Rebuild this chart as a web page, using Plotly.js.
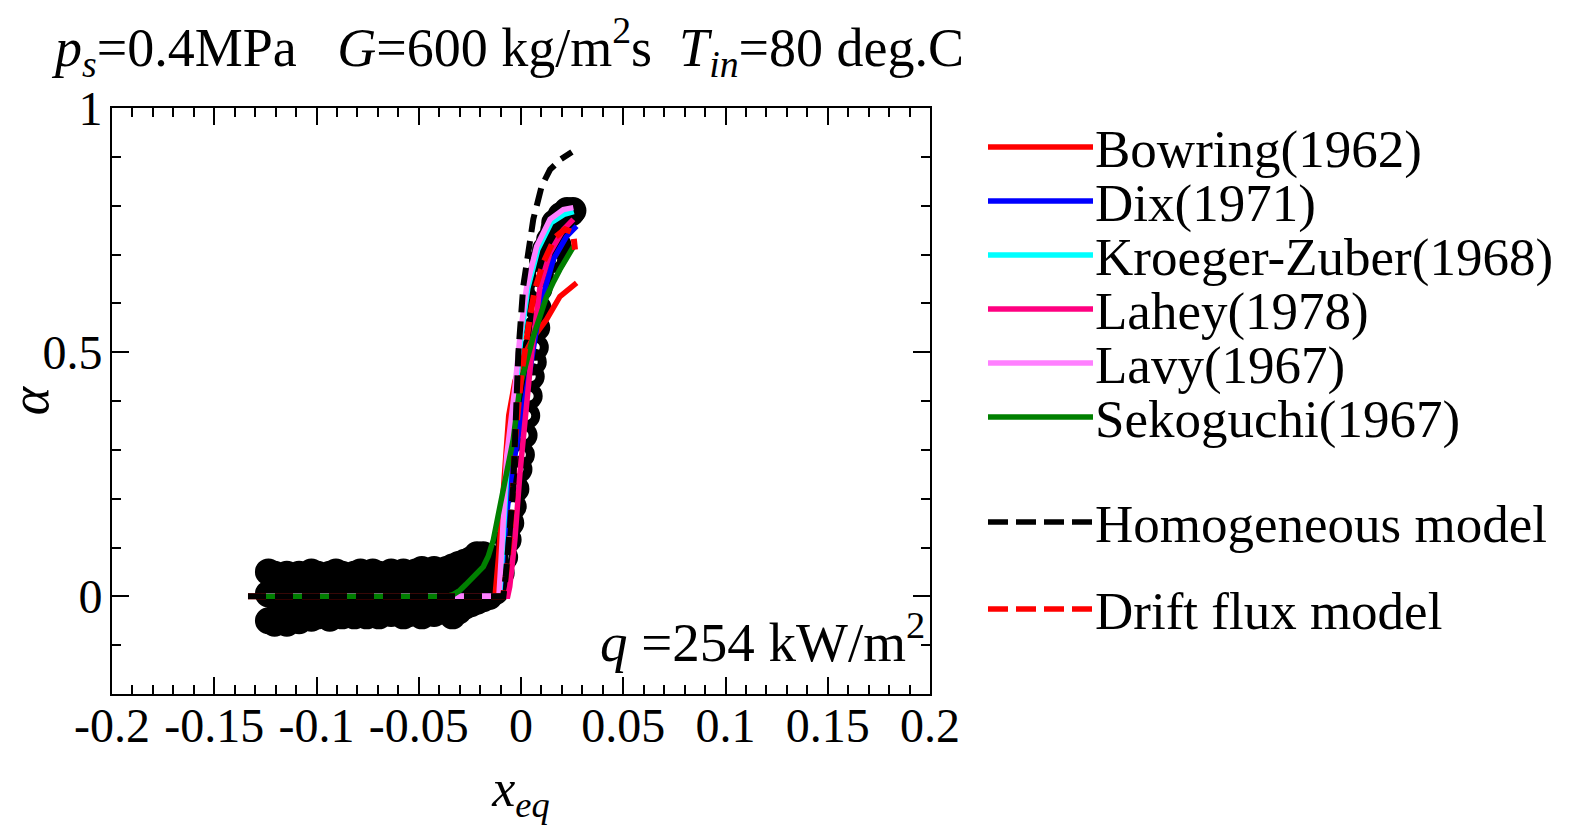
<!DOCTYPE html>
<html><head><meta charset="utf-8">
<script src="https://cdn.plot.ly/plotly-3.0.1.min.js"></script>
<style>html,body{margin:0;padding:0;background:#fff}</style>
</head><body><div id="chart" style="width:1573px;height:825px"></div>
<script>
// ---- Measured data (x_eq, alpha) ----
const flatX = [-0.1235,-0.1205,-0.1175,-0.1145,-0.1115,-0.1085,-0.1055,-0.1025,-0.0995,-0.0965,-0.0935,-0.0905,-0.0875,-0.0845,-0.0815,-0.0785,-0.0755,-0.0725,-0.0695,-0.0665,-0.0635,-0.0605,-0.0575,-0.0545,-0.0515,-0.0485,-0.0455,-0.0425,-0.0395,-0.0365,-0.0335,-0.0305,-0.0275,-0.0245,-0.0215,-0.0185,-0.0155,-0.0125];
const flatUpper = [0.05,0.045,0.04,0.045,0.04,0.045,0.04,0.05,0.045,0.04,0.045,0.05,0.045,0.04,0.045,0.05,0.045,0.05,0.045,0.04,0.05,0.045,0.05,0.045,0.05,0.055,0.05,0.055,0.05,0.055,0.06,0.065,0.07,0.075,0.085,0.085,0.08,0.075];
const flatMid = [0.005,0,0.01,-0.005,0.005,0,0.01,0,0.005,-0.005,0.01,0,0.005,0,0.01,-0.005,0.005,0,0.01,0,0.005,0,0.01,0,0.005,0.01,0,0.01,0.005,0.01,0.015,0.02,0.02,0.025,0.03,0.035,0.035,0.04];
const flatLower = [-0.05,-0.055,-0.05,-0.055,-0.045,-0.05,-0.04,-0.045,-0.04,-0.035,-0.045,-0.035,-0.04,-0.035,-0.04,-0.03,-0.04,-0.035,-0.04,-0.03,-0.035,-0.03,-0.04,-0.035,-0.03,-0.04,-0.03,-0.035,-0.03,-0.03,-0.04,-0.03,-0.02,-0.015,-0.01,-0.005,0.0,0.01];
const riseX = [-0.0115,-0.0097,-0.008,-0.0063,-0.005,-0.0038,-0.0025,-0.001,0.0002,0.0015,0.0028,0.004,0.005,0.006,0.007,0.0077,0.0084,0.0088,0.0095,0.0105,0.012,0.014,0.0155,0.016,0.018,0.018,0.0205,0.0225,0.0245,0.0254,0.0165,0.0195,0.0225];
const riseY = [0.03,0.048,0.08,0.116,0.15,0.184,0.22,0.26,0.29,0.33,0.37,0.41,0.45,0.48,0.51,0.55,0.59,0.63,0.66,0.69,0.71,0.73,0.69,0.75,0.72,0.76,0.77,0.78,0.785,0.79,0.765,0.78,0.79];

// ---- Correlations ----
const bowringX = [-0.127,-0.0127,-0.011,-0.0095,-0.0078,-0.006,-0.003,0.001,0.006,0.0125,0.019,0.0272];
const bowringY = [0,0,0.08,0.18,0.287,0.37,0.44,0.49,0.53,0.567,0.614,0.642];
const dixX = [-0.127,-0.0105,-0.0094,-0.0075,-0.005,-0.002,0.0011,0.0044,0.0093,0.0158,0.0223,0.0272];
const dixY = [0,0,0.05,0.15,0.24,0.31,0.38,0.464,0.594,0.69,0.737,0.758];
const kzX = [-0.127,-0.0105,-0.0094,-0.0083,-0.0065,-0.0024,0.0,0.0033,0.0082,0.0147,0.021,0.0258];
const kzY = [0,0,0.07,0.17,0.287,0.43,0.53,0.63,0.71,0.765,0.782,0.788];
const laheyX = [-0.127,-0.0065,-0.0055,-0.003,-0.0005,0.0025,0.0052,0.0093,0.0142,0.0207,0.0256];
const laheyY = [0,0,0.02,0.116,0.253,0.38,0.498,0.635,0.704,0.751,0.772];
const lavyX = [-0.127,-0.0108,-0.0098,-0.0088,-0.007,-0.0029,-0.0005,0.0028,0.0077,0.0142,0.0207,0.0256];
const lavyY = [0,0,0.07,0.17,0.287,0.43,0.532,0.635,0.717,0.772,0.792,0.796];
const sekoX = [-0.127,-0.0363,-0.033,-0.03,-0.027,-0.0233,-0.02,-0.0184,-0.016,-0.0135,-0.0103,-0.007,-0.0038,-0.0005,0.003,0.006,0.0095,0.0125,0.016,0.019,0.0262];
const sekoY = [0,0,0.004,0.012,0.024,0.04,0.052,0.061,0.082,0.116,0.184,0.253,0.321,0.43,0.49,0.532,0.576,0.614,0.645,0.669,0.72];
const homoX = [-0.1335,-0.0086,-0.0075,-0.0062,-0.005,-0.0038,-0.0029,-0.0013,0.0011,0.0035,0.006,0.0101,0.0142,0.0195,0.0249];
const homoY = [0,0,0.04,0.09,0.16,0.225,0.362,0.498,0.635,0.71,0.772,0.84,0.874,0.895,0.91];
const driftX = [-0.1335,-0.0088,-0.007,-0.0054,-0.0038,-0.003,0.0003,0.002,0.0044,0.0068,0.0109,0.0166,0.0215,0.0255,0.0264];
const driftY = [0,0,0.054,0.122,0.232,0.315,0.458,0.512,0.573,0.628,0.683,0.735,0.752,0.745,0.71];

const xTickVals = [-0.2,-0.15,-0.1,-0.05,0,0.05,0.1,0.15,0.2];
const xTickText = ["-0.2","-0.15","-0.1","-0.05","0","0.05","0.1","0.15","0.2"];
const yTickVals = [0,0.5,1];
const yTickText = ["0","0.5","1"];

const legendNames = ["Bowring(1962)","Dix(1971)","Kroeger-Zuber(1968)","Lahey(1978)","Lavy(1967)","Sekoguchi(1967)","Homogeneous model","Drift flux model"];
const legendColors = ["#ff0000","#0000ff","#00ffff","#ff0080","#ff80ff","#008000","#000000","#ff0000"];
const legendDash = ["solid","solid","solid","solid","solid","solid","dash","dash"];

// ---- Layout geometry (pixels) ----
const FONT = "Liberation Serif, Times New Roman, serif";
const L = 112, T = 108, W = 818, H = 586;
const px = p => (p - L) / W;
const py = p => (T + H - p) / H;
const legendLineY = [147, 201, 255, 309, 363, 417, 522, 609];

const measX = flatX.concat(flatX, flatX, riseX);
const measY = flatUpper.concat(flatMid, flatLower, riseY);

const LW = 5.5;
const DASH = "18px,9px";
function line(x, y, color, dash) {
  return {x: x, y: y, type: "scatter", mode: "lines", showlegend: false,
          line: {color: color, width: dash ? 6 : LW, dash: dash || "solid"},
          hoverinfo: "skip"};
}
const traces = [
  {x: measX, y: measY, type: "scatter", mode: "markers", showlegend: false,
   marker: {symbol: "circle-open", size: 18, color: "#000", line: {color: "#000", width: 9}}},
  line(bowringX, bowringY, legendColors[0]),
  line(dixX, dixY, legendColors[1]),
  line(kzX, kzY, legendColors[2]),
  line(laheyX, laheyY, legendColors[3]),
  line(lavyX, lavyY, legendColors[4]),
  line(sekoX, sekoY, legendColors[5]),
  line(driftX, driftY, legendColors[7], DASH),
  line(homoX, homoY, legendColors[6], DASH)
];

const shapes = [];
const annotations = [];
legendNames.forEach((n, i) => {
  shapes.push({type: "line", xref: "paper", yref: "paper",
    x0: px(988), x1: px(1093), y0: py(legendLineY[i]), y1: py(legendLineY[i]),
    line: {color: legendColors[i], width: LW, dash: legendDash[i] === "dash" ? "20px,8px" : "solid"}});
  annotations.push({xref: "paper", yref: "paper", x: px(1093), y: py(legendLineY[i] + 2),
    xanchor: "left", yanchor: "middle", showarrow: false, text: n,
    font: {family: FONT, size: 53, color: "#000"}});
});
annotations.push({xref: "paper", yref: "paper", x: px(927), y: py(638), xanchor: "right", yanchor: "middle",
  showarrow: false, text: "<i>q</i> =254 kW/m<sup>2</sup>", font: {family: FONT, size: 55, color: "#000"}});

const axisCommon = {
  showline: true, linecolor: "#000", linewidth: 2, mirror: "allticks",
  ticks: "inside", ticklen: 17, tickwidth: 2, tickcolor: "#000",
  showgrid: false, zeroline: false, tickmode: "array",
  tickfont: {family: FONT, size: 48, color: "#000"}
};

const layout = {
  width: 1573, height: 825,
  margin: {l: L, r: 1573 - L - W, t: T, b: 825 - T - H},
  paper_bgcolor: "#fff", plot_bgcolor: "#fff",
  title: {text: "<i>p<sub>s</sub></i>=0.4MPa\u00a0\u00a0\u00a0<i>G</i>=600 kg/m<sup>2</sup>s\u00a0\u00a0<i>T<sub>in</sub></i>=80 deg.C",
    xref: "container", yref: "container", x: 55 / 1573, xanchor: "left", y: 1 - 47 / 825, yanchor: "middle",
    font: {family: FONT, size: 54, color: "#000"}},
  xaxis: Object.assign({}, axisCommon, {
    range: [-0.2, 0.2], tickvals: xTickVals, ticktext: xTickText, ticklabelstandoff: -12,
    minor: {dtick: 0.01, tick0: 0, ticks: "inside", ticklen: 9, tickwidth: 2, tickcolor: "#000", showgrid: false},
    title: {text: "<i>x<sub>eq</sub></i>", font: {family: FONT, size: 52, color: "#000"}, standoff: 30}
  }),
  yaxis: Object.assign({}, axisCommon, {
    range: [-0.2, 1], tickvals: yTickVals, ticktext: yTickText, ticklabelstandoff: -2,
    minor: {dtick: 0.1, tick0: 0, ticks: "inside", ticklen: 9, tickwidth: 2, tickcolor: "#000", showgrid: false},
    title: {text: "<i>α</i>", font: {family: FONT, size: 54, color: "#000"}, standoff: 14}
  }),
  shapes: shapes,
  annotations: annotations
};

Plotly.newPlot("chart", traces, layout, {displayModeBar: false, staticPlot: true});
</script></body></html>
